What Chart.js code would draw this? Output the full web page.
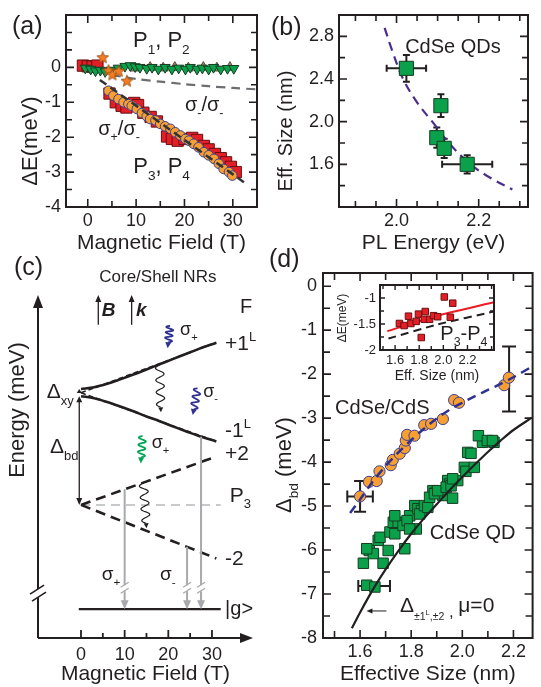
<!DOCTYPE html>
<html>
<head>
<meta charset="utf-8">
<title>Fine structure figure</title>
<script src="https://cdn.jsdelivr.net/npm/chart.js@4.4.1/dist/chart.umd.min.js"></script>
<style>
  html, body { margin:0; padding:0; background:#ffffff; }
  #fig { position:relative; width:541px; height:687px; background:#ffffff; overflow:hidden; }
  #fig canvas { position:absolute; left:0; top:0; }
</style>
</head>
<body>
<div id="fig">
  <canvas id="chartA" width="541" height="687"></canvas>
  <canvas id="chartB" width="541" height="687"></canvas>
  <canvas id="chartC" width="541" height="687"></canvas>
  <canvas id="chartD" width="541" height="687"></canvas>
  <canvas id="chartE" width="541" height="687"></canvas>
</div>
<script>
// ================= DATA =================
// ---- Panel (a): energy shift vs magnetic field ----
const a_sigPM_B = [4.3,5.3,6.35,7.4,8.4,9.1,10.15,11.2,12.2,12.9,14.0,15.0,16.0,17.1,18.1,19.15,20.2,20.9,21.9,22.9,24.0,25.0,26.1,27.1,28.1,29.2,29.9];
const a_sigPM_E = [-0.67,-0.81,-0.91,-1.00,-1.05,-1.10,-1.19,-1.31,-1.40,-1.48,-1.52,-1.62,-1.69,-1.76,-1.86,-1.95,-2.05,-2.10,-2.19,-2.29,-2.43,-2.52,-2.62,-2.76,-2.91,-3.00,-3.10];
const a_red_B = [-1.0,0.0,1.0,2.0,4.5,5.8,7.0,8.0,9.6,10.4,11.5,13.0,14.3,16.4,17.4,18.6,20.0,21.6,22.6,24.0,25.0,26.3,27.5,28.6,29.6,30.6];
const a_red_E = [0.05,0.03,0.02,0.05,-0.75,-1.00,-1.10,-1.15,-1.02,-1.08,-1.30,-1.42,-1.55,-1.98,-2.05,-2.10,-2.05,-2.02,-2.08,-2.25,-2.35,-2.48,-2.60,-2.72,-2.85,-3.00];
const a_green_B = [-0.5,0.6,1.6,2.6,3.6,4.8,6.3,7.7,8.8,9.8,10.8,12.2,13.3,14.6,16.0,17.4,18.8,20.2,21.2,22.6,23.7,25.0,26.0,27.5,28.9,30.2];
const a_green_E = [-0.02,-0.05,-0.10,-0.08,-0.12,-0.08,-0.02,0.03,0.05,0.02,0.00,-0.03,0.00,-0.05,0.00,-0.05,-0.02,-0.05,0.00,-0.05,-0.02,-0.05,0.00,-0.05,-0.03,-0.03];
const a_tan_B = [9.8,12.9,15.6,18.0,20.8,23.9,26.7,29.4];
const a_tan_E = [-0.02,0.00,-0.02,0.00,-0.02,0.00,-0.02,0.00];
const a_star_B = [3.1,4.3,5.1,6.4,8.1];
const a_star_E = [0.29,-0.08,-0.20,-0.10,-0.38];
const a_fit_B = [2.5,32.3];
const a_fit_E = [-0.36,-3.29];
const a_mm_B = [5,10,15,20,25,30,35];
const a_mm_E = [-0.22,-0.33,-0.41,-0.48,-0.54,-0.59,-0.63];
const a_xLabels = [0,10,20,30];
const a_yLabels = [0,-1,-2,-3,-4];

// ---- Panel (b): effective size vs PL energy ----
const b_energy = [2.024,2.108,2.098,2.116,2.172];
const b_size = [2.50,2.15,1.85,1.75,1.60];
const b_energyErr = [0.048,0,0,0,0.061];
const b_sizeErr = [0.125,0.107,0.095,0.09,0.085];
const b_curveE = [1.971,1.99,2.016,2.05,2.087,2.13,2.18,2.23,2.282];
const b_curveS = [2.88,2.66,2.40,2.18,2.00,1.79,1.60,1.47,1.365];
const b_xLabels = [2.0,2.2];
const b_yLabels = [1.6,2.0,2.4,2.8];

// ---- Panel (c): schematic level diagram (energy in arbitrary units 0-100) ----
const c_levelB = [0,3,6,9,12,15,18,21,24,27,31];
const c_plus1L = [72.6,73.1,74.1,75.4,76.8,78.3,79.8,81.3,82.8,84.3,86.1];
const c_minus1L = [70.5,69.9,68.8,67.5,66.1,64.6,63.2,61.7,60.3,58.9,57.3];
const c_lineB = [0,31];
const c_plus1Lbare = [71.5,86.1];
const c_minus1Lbare = [71.5,57.3];
const c_plus2 = [38.8,52.9];
const c_minus2 = [38.8,23.2];
const c_p3B = [0,32];
const c_p3E = [38.8,38.8];
const c_gB = [-0.5,32];
const c_gE = [8.4,8.4];
const c_transB = [10,24.3,27.5];
const c_transFrom = [43.4,26.6,58.7];
const c_transBreak = 14.5;
const c_axisBreak = 13.1;
const c_wavyB0 = [18.0,14.3,20.4,26.7,14.1];
const c_wavyE0 = [79.6,45.2,91.0,72.8,58.9];
const c_wavyB1 = [18.3,15.0,19.85,25.6,13.7];
const c_wavyE1 = [65.8,32.0,84.5,65.0,50.9];
const c_wavyColor = ['#231f20','#231f20','#2E3192','#2E3192','#00A651'];
const c_xLabels = [0,10,20,30];
const c_xTicks = [0,5,10,15,20,25,30];

// ---- Panel (d): Δbd vs effective size ----
const d_csX = [1.600,1.635,1.665,1.676,1.720,1.728,1.755,1.775,1.779,1.784,1.813,1.851,1.878,1.924,1.968,1.987,2.164,2.182];
const d_csY = [-4.78,-4.45,-4.43,-4.21,-4.07,-3.95,-3.81,-3.68,-3.51,-3.38,-3.40,-3.16,-3.13,-3.02,-2.59,-2.65,-2.25,-2.08];
const d_csErrPt = [1.600];
const d_csErrPtY = [-4.78];
const d_csErrX = [0.05];
const d_csErrY = [0.35];
const d_bigErrX = [2.183];
const d_bigErrY = [-2.11];
const d_bigErr = [0.74];
const d_qdX = [1.626,1.658,1.613,1.690,1.636,1.652,1.626,1.671,1.710,1.775,1.678,1.717,1.736,1.730,1.749,1.768,1.736,1.794,1.784,1.820,1.794,1.814,1.826,1.840,1.833,1.852,1.865,1.885,1.898,1.924,1.962,1.943,1.950,1.982,2.008,2.014,2.047,2.021,2.034,2.079,2.124,2.063,2.098,2.118,1.872,1.891,1.904,1.937,1.956,1.962];
const d_qdY = [-6.80,-6.84,-6.30,-6.30,-6.01,-6.08,-5.97,-5.78,-6.01,-5.97,-5.71,-5.59,-5.63,-5.37,-5.37,-5.44,-5.22,-5.22,-5.33,-5.52,-5.52,-4.99,-5.06,-5.10,-5.18,-4.99,-5.03,-4.65,-4.69,-4.76,-4.82,-4.42,-4.50,-4.42,-4.12,-4.21,-4.12,-3.78,-3.80,-3.55,-3.55,-3.40,-3.51,-3.51,-4.80,-4.72,-4.65,-4.57,-4.54,-4.38];
const d_qdErrPtX = [1.655];
const d_qdErrPtY = [-6.82];
const d_qdErrX = [0.062];
const d_csFitX = [1.561,1.60,1.65,1.70,1.75,1.80,1.85,1.90,1.95,2.00,2.05,2.10,2.15,2.20,2.272];
const d_csFitY = [-5.16,-4.85,-4.44,-4.09,-3.78,-3.50,-3.24,-3.01,-2.81,-2.65,-2.50,-2.36,-2.22,-2.07,-1.83];
const d_qdFitX = [1.568,1.60,1.65,1.70,1.75,1.80,1.85,1.90,1.95,2.00,2.05,2.10,2.15,2.20,2.272];
const d_qdFitY = [-7.78,-7.42,-6.90,-6.44,-6.02,-5.63,-5.28,-4.96,-4.64,-4.34,-4.05,-3.77,-3.51,-3.27,-2.99];
const d_xLabels = [1.6,1.8,2.0,2.2];
const d_yLabels = [0,-1,-2,-3,-4,-5,-6,-7,-8];
const d_arrowX = [1.703,1.625];
const d_arrowY = [-7.385,-7.385];

// ---- Inset of (d): P3-P4 splitting vs size ----
const in_X = [1.636,1.675,1.711,1.731,1.775,1.794,1.842,1.850,1.886,1.919,1.953,2.008,2.078,2.058,1.817];
const in_Y = [-1.49,-1.53,-1.35,-1.49,-1.45,-1.31,-1.41,-1.26,-1.41,-1.34,-1.36,-0.98,-1.10,-1.37,-1.76];
const in_redX = [1.536,1.95,2.419];
const in_redY = [-1.64,-1.34,-1.08];
const in_blkX = [1.545,1.95,2.419];
const in_blkY = [-1.78,-1.51,-1.26];
const in_xLabels = [1.6,1.8,2.0,2.2];
const in_yLabels = [-1,-1.5,-2];

// ================= HELPERS =================
const FONT = "'Liberation Sans', Arial, Helvetica, sans-serif";
const INK = '#231f20';
const W = 541, H = 687;
const pts = (xs, ys) => xs.map((x, i) => ({x: x, y: ys[i]}));
const near = (v, list) => list.some(m => Math.abs(m - v) < 1e-6);
const f0 = v => String(Math.round(v));
const f1 = v => v.toFixed(1);

function drawRich(ctx, x, y, segs, size, o) {
  o = o || {};
  const pre = (o.italic ? 'italic ' : '') + (o.bold ? 'bold ' : '');
  const items = segs.map(s => {
    if (typeof s === 'string') s = [s, ''];
    const t = s[0], k = s[1];
    let sz = size, dy = 0;
    if (k === 'sub') { sz = size * 0.62; dy = size * 0.30; }
    else if (k === 'sup') { sz = size * 0.62; dy = -size * 0.42; }
    else if (k && typeof k === 'object') { sz = size * k.s; dy = size * k.dy; }
    ctx.font = pre + sz + 'px ' + FONT;
    return {t: t, sz: sz, dy: dy, w: ctx.measureText(t).width};
  });
  const total = items.reduce((a, b) => a + b.w, 0);
  let cx = o.align === 'center' ? x - total / 2 : (o.align === 'right' ? x - total : x);
  ctx.save();
  ctx.fillStyle = o.color || INK;
  ctx.textBaseline = 'alphabetic';
  ctx.textAlign = 'left';
  if (o.rot) { ctx.translate(x, y); ctx.rotate(o.rot); ctx.translate(-x, -y); }
  items.forEach(it => { ctx.font = pre + it.sz + 'px ' + FONT; ctx.fillText(it.t, cx, y + it.dy); cx += it.w; });
  ctx.restore();
}

function arrowHead(ctx, xb, yb, xt, yt, size, half, color) {
  const dx = xt - xb, dy = yt - yb, L = Math.hypot(dx, dy) || 1, ux = dx / L, uy = dy / L;
  const bx = xt - ux * size, by = yt - uy * size;
  ctx.beginPath();
  ctx.moveTo(xt, yt);
  ctx.lineTo(bx - uy * half, by + ux * half);
  ctx.lineTo(bx + uy * half, by - ux * half);
  ctx.closePath();
  ctx.fillStyle = color;
  ctx.fill();
}

function wavy(ctx, x0, y0, x1, y1, amp, waves, color, lw, head) {
  const dx = x1 - x0, dy = y1 - y0, L = Math.hypot(dx, dy), ux = dx / L, uy = dy / L, nx = -uy, ny = ux;
  const Lw = L - head;
  ctx.save();
  ctx.strokeStyle = color; ctx.lineWidth = lw; ctx.beginPath();
  const N = 80;
  for (let i = 0; i <= N; i++) {
    const s = i / N * Lw;
    const off = amp * Math.sin(2 * Math.PI * waves * s / Lw);
    const px = x0 + ux * s + nx * off, py = y0 + uy * s + ny * off;
    if (i) ctx.lineTo(px, py); else ctx.moveTo(px, py);
  }
  ctx.stroke();
  arrowHead(ctx, x0, y0, x1, y1, head, head * 0.5, color);
  ctx.restore();
}

function axis(o) {
  return {
    type: 'linear', position: o.isX ? 'bottom' : 'left', display: o.display !== false,
    min: o.min, max: o.max, bounds: 'ticks',
    grid: {display: false, drawTicks: false},
    border: {display: false},
    ticks: {stepSize: o.step, includeBounds: false, autoSkip: false, maxRotation: 0, minRotation: 0,
      padding: o.pad, color: INK, font: {family: FONT, size: o.font},
      callback: (v) => near(v, o.labels) ? o.fmt(v) : ''},
    title: o.title ? {display: true, text: o.title, color: INK, font: {family: FONT, size: o.titleSize}, padding: {top: 0, bottom: 0}} : {display: false},
    afterFit: (s) => {
      if (o.isX) s.height = o.fixed; else s.width = o.fixed;
      s.paddingLeft = 0; s.paddingRight = 0; s.paddingTop = 0; s.paddingBottom = 0;
    }
  };
}

function framePlugin(o) {
  return {
    id: 'frame',
    beforeDatasetsDraw(chart) {
      const a = chart.chartArea, ctx = chart.ctx;
      if (o.white) { ctx.save(); ctx.fillStyle = '#ffffff'; ctx.fillRect(a.left, a.top, a.right - a.left, a.bottom - a.top); ctx.restore(); }
      const xs = chart.scales.x, ys = chart.scales.y;
      chart.data.datasets.forEach(ds => {
        if (!ds.errX && !ds.errY) return;
        ctx.save();
        ctx.strokeStyle = INK; ctx.lineWidth = ds.errWidth || 2;
        const cap = ds.errCap || 5;
        ds.data.forEach((p, i) => {
          const px = xs.getPixelForValue(p.x), py = ys.getPixelForValue(p.y);
          const ex = ds.errX ? ds.errX[i] : 0, ey = ds.errY ? ds.errY[i] : 0;
          ctx.beginPath();
          if (ex) {
            const x0 = xs.getPixelForValue(p.x - ex), x1 = xs.getPixelForValue(p.x + ex);
            ctx.moveTo(x0, py); ctx.lineTo(x1, py);
            ctx.moveTo(x0, py - cap); ctx.lineTo(x0, py + cap);
            ctx.moveTo(x1, py - cap); ctx.lineTo(x1, py + cap);
          }
          if (ey) {
            const y0 = ys.getPixelForValue(p.y - ey), y1 = ys.getPixelForValue(p.y + ey);
            ctx.moveTo(px, y0); ctx.lineTo(px, y1);
            ctx.moveTo(px - cap, y0); ctx.lineTo(px + cap, y0);
            ctx.moveTo(px - cap, y1); ctx.lineTo(px + cap, y1);
          }
          ctx.stroke();
        });
        ctx.restore();
      });
    },
    afterDatasetsDraw(chart) {
      if (o.noFrame) return;
      const ctx = chart.ctx, a = chart.chartArea, x = chart.scales.x, y = chart.scales.y;
      ctx.save();
      ctx.strokeStyle = INK;
      ctx.beginPath();
      x.ticks.forEach(t => {
        const p = x.getPixelForValue(t.value);
        if (p < a.left + 1.5 || p > a.right - 1.5) return;
        const L = near(t.value, o.xMaj) ? o.maj : o.min;
        ctx.moveTo(p, a.bottom); ctx.lineTo(p, a.bottom - L);
        ctx.moveTo(p, a.top); ctx.lineTo(p, a.top + L);
      });
      y.ticks.forEach(t => {
        const p = y.getPixelForValue(t.value);
        if (p < a.top + 1.5 || p > a.bottom - 1.5) return;
        const L = near(t.value, o.yMaj) ? o.maj : o.min;
        ctx.moveTo(a.left, p); ctx.lineTo(a.left + L, p);
        ctx.moveTo(a.right, p); ctx.lineTo(a.right - L, p);
      });
      ctx.lineWidth = o.tlw; ctx.stroke();
      ctx.lineWidth = o.lw;
      ctx.strokeRect(a.left, a.top, a.right - a.left, a.bottom - a.top);
      ctx.restore();
    }
  };
}

function notesPlugin(list, extra) {
  return {
    id: 'notes',
    afterDraw(chart) {
      const ctx = chart.ctx, x = chart.scales.x, y = chart.scales.y;
      if (extra) extra(chart);
      list.forEach(n => {
        const px = n.page ? n.x : x.getPixelForValue(n.x);
        const py = n.page ? n.y : y.getPixelForValue(n.y);
        drawRich(ctx, px, py, n.segs, n.size, n);
      });
    }
  };
}

function makeChart(id, box, fx, fy, xAxis, yAxis, datasets, plugins) {
  return new Chart(document.getElementById(id), {
    type: 'scatter',
    data: {datasets: datasets},
    options: {
      responsive: false, maintainAspectRatio: false, animation: false, devicePixelRatio: 1,
      events: [],
      layout: {padding: {left: box.l - fy, top: box.t, right: W - box.r, bottom: H - box.b - fx}},
      plugins: {legend: {display: false}, tooltip: {enabled: false}},
      scales: {x: xAxis, y: yAxis}
    },
    plugins: plugins
  });
}

function starImage(size, fill, stroke) {
  const c = document.createElement('canvas');
  c.width = size; c.height = size;
  const g = c.getContext('2d');
  const cx = size / 2, cy = size / 2 + 0.6, R = size / 2 - 0.8, r = R * 0.45;
  g.beginPath();
  for (let i = 0; i < 10; i++) {
    const ang = -Math.PI / 2 + i * Math.PI / 5, rr = i % 2 ? r : R;
    g.lineTo(cx + rr * Math.cos(ang), cy + rr * Math.sin(ang));
  }
  g.closePath(); g.fillStyle = fill; g.fill(); g.lineWidth = 0.8; g.strokeStyle = stroke; g.stroke();
  return c;
}

const ORANGE = '#F7A031', CIRC_EDGE = '#3C3F97', RED = '#E41E26', GREEN = '#0BA14B', TAN = '#A38A6A';
const TICK = 18, TITLE = 21;

// ================= PANEL (a) =================
makeChart('chartA', {l: 66, t: 15, r: 257, b: 207}, 49, 50,
  axis({isX: true, min: -4.5, max: 35, step: 5, labels: a_xLabels, fmt: f0, fixed: 49, font: TICK, pad: 3, title: 'Magnetic Field (T)', titleSize: TITLE}),
  axis({isX: false, min: -4, max: 1.5, step: 0.5, labels: a_yLabels, fmt: f0, fixed: 50, font: TICK, pad: 5}),
  [
    {label: 'σ+/σ- fit', data: pts(a_fit_B, a_fit_E), showLine: true, pointRadius: 0, borderColor: '#333333', borderWidth: 2.5, borderDash: [8, 5], order: 0},
    {label: 'P3,P4 σ+/σ-', data: pts(a_sigPM_B, a_sigPM_E), pointStyle: 'circle', pointRadius: 4.8, backgroundColor: ORANGE, borderColor: CIRC_EDGE, borderWidth: 1, order: 1},
    {label: 'σ-/σ- stars', data: pts(a_star_B, a_star_E), pointStyle: starImage(14, '#F47B20', '#8a4a10'), pointRadius: 7, order: 2},
    {label: 'P1,P2 green', data: pts(a_green_B, a_green_E), pointStyle: 'triangle', rotation: 180, pointRadius: 5.8, backgroundColor: GREEN, borderColor: '#153d22', borderWidth: 1, order: 3},
    {label: 'P1,P2 tan', data: pts(a_tan_B, a_tan_E), pointStyle: 'triangle', pointRadius: 5.8, backgroundColor: TAN, borderColor: '#5a4a3a', borderWidth: 1, order: 4},
    {label: 'P3,P4 red', data: pts(a_red_B, a_red_E), pointStyle: 'rect', pointRadius: 8, backgroundColor: RED, borderColor: '#6b0f10', borderWidth: 1, order: 5},
    {label: 'σ-/σ- fit', data: pts(a_mm_B, a_mm_E), showLine: true, pointRadius: 0, borderColor: '#6D6E71', borderWidth: 2.2, borderDash: [9, 6], tension: 0.3, order: 6}
  ],
  [framePlugin({xMaj: a_xLabels, yMaj: a_yLabels, maj: 8, min: 6, lw: 2, tlw: 1.6}),
   notesPlugin([
     {page: true, x: 12, y: 34, segs: ['(a)'], size: 25},
     {page: true, x: 37, y: 141, segs: ['ΔE(meV)'], size: 22, align: 'center', rot: -Math.PI / 2},
     {x: 9.35, y: 0.58, segs: ['P', ['1', 'sub'], ', P', ['2', 'sub']], size: 22},
     {x: 20.1, y: -1.25, segs: ['σ', ['-', 'sub'], '/σ', ['-', 'sub']], size: 20},
     {x: 2.17, y: -1.94, segs: ['σ', ['+', 'sub'], '/σ', ['-', 'sub']], size: 20},
     {x: 9.4, y: -3.03, segs: ['P', ['3', 'sub'], ', P', ['4', 'sub']], size: 22}
   ])]
);

// ================= PANEL (b) =================
makeChart('chartB', {l: 339, t: 15, r: 528, b: 207}, 49, 50,
  axis({isX: true, min: 1.86, max: 2.32, step: 0.05, labels: b_xLabels, fmt: f1, fixed: 49, font: TICK, pad: 3, title: 'PL Energy (eV)', titleSize: TITLE}),
  axis({isX: false, min: 1.2, max: 3.0, step: 0.2, labels: b_yLabels, fmt: f1, fixed: 50, font: TICK, pad: 5}),
  [
    {label: 'CdSe QDs', data: pts(b_energy, b_size), errX: b_energyErr, errY: b_sizeErr, errCap: 3.5, errWidth: 2, pointStyle: 'rect', pointRadius: 10, backgroundColor: GREEN, borderColor: '#153d22', borderWidth: 1, order: 0},
    {label: 'size curve', data: pts(b_curveE, b_curveS), showLine: true, pointRadius: 0, borderColor: '#4A2E8E', borderWidth: 2.2, borderDash: [9, 6], tension: 0.35, order: 1}
  ],
  [framePlugin({xMaj: b_xLabels, yMaj: b_yLabels, maj: 8, min: 6, lw: 2, tlw: 1.6}),
   notesPlugin([
     {page: true, x: 271, y: 35, segs: ['(b)'], size: 25},
     {page: true, x: 292, y: 131, segs: ['Eff. Size (nm)'], size: 20, align: 'center', rot: -Math.PI / 2},
     {x: 2.021, y: 2.64, segs: ['CdSe QDs'], size: 20}
   ])]
);

// ================= PANEL (c) =================
function drawC(chart) {
  const ctx = chart.ctx, a = chart.chartArea, x = chart.scales.x, y = chart.scales.y;
  const X = v => x.getPixelForValue(v), Y = v => y.getPixelForValue(v);
  ctx.save();
  ctx.strokeStyle = INK; ctx.lineWidth = 2;
  ctx.beginPath();
  ctx.moveTo(a.left, a.bottom); ctx.lineTo(a.left, a.top + 10);
  ctx.moveTo(a.left, a.bottom); ctx.lineTo(a.right - 10, a.bottom);
  ctx.stroke();
  arrowHead(ctx, a.left, a.bottom, a.left, a.top, 13, 5, INK);
  arrowHead(ctx, a.left, a.bottom, a.right, a.bottom, 13, 5, INK);
  ctx.beginPath();
  c_xTicks.forEach(t => { const p = X(t); const L = near(t, c_xLabels) ? 8 : 5; ctx.moveTo(p, a.bottom); ctx.lineTo(p, a.bottom - L); });
  ctx.lineWidth = 1.8; ctx.stroke();
  const yb = Y(c_axisBreak);
  ctx.fillStyle = '#ffffff'; ctx.fillRect(a.left - 3, yb - 4, 6, 8);
  ctx.beginPath();
  ctx.moveTo(a.left - 8, yb + 1); ctx.lineTo(a.left + 6, yb - 8);
  ctx.moveTo(a.left - 6, yb + 8); ctx.lineTo(a.left + 8, yb - 1);
  ctx.lineWidth = 1.6; ctx.stroke();
  const xd = X(-0.4);
  ctx.beginPath(); ctx.moveTo(xd, Y(c_minus1L[0]) + 5); ctx.lineTo(xd, Y(c_p3E[0]) - 6);
  ctx.lineWidth = 1.3; ctx.stroke();
  arrowHead(ctx, xd, Y(c_minus1L[0]) + 10, xd, Y(c_p3E[0]), 7, 3, INK);
  arrowHead(ctx, xd, Y(c_p3E[0]) - 10, xd, Y(c_minus1L[0]), 6, 3, INK);
  arrowHead(ctx, xd, Y(c_minus1L[0]), xd, Y(c_plus1L[0]), 4, 2.5, INK);
  const GR = '#A7A9AC';
  c_transB.forEach((b, i) => {
    const px = X(b), y0 = Y(c_transFrom[i]), y1 = Y(c_gE[0]), ybr = Y(c_transBreak);
    ctx.beginPath(); ctx.moveTo(px, y0); ctx.lineTo(px, ybr - 3); ctx.moveTo(px, ybr + 3); ctx.lineTo(px, y1 - 6);
    ctx.strokeStyle = GR; ctx.lineWidth = 2; ctx.stroke();
    ctx.beginPath();
    ctx.moveTo(px - 4, ybr - 1); ctx.lineTo(px + 4, ybr - 6);
    ctx.moveTo(px - 4, ybr + 5); ctx.lineTo(px + 4, ybr);
    ctx.lineWidth = 1.3; ctx.stroke();
    arrowHead(ctx, px, y0, px, y1, 9, 4, GR);
  });
  c_wavyB0.forEach((b, i) => {
    const colored = i >= 2;
    wavy(ctx, X(b), Y(c_wavyE0[i]), X(c_wavyB1[i]), Y(c_wavyE1[i]), colored ? 3.6 : 4.2, colored ? 3 : 3.5, c_wavyColor[i], colored ? 1.8 : 1.2, colored ? 6 : 5);
  });
  [3.96, 11.6].forEach(b => {
    ctx.beginPath(); ctx.moveTo(X(b), Y(91.3)); ctx.lineTo(X(b), Y(100) + 5);
    ctx.strokeStyle = INK; ctx.lineWidth = 1.3; ctx.stroke();
    arrowHead(ctx, X(b), Y(91.3), X(b), Y(100), 7, 3, INK);
  });
  ctx.restore();
}

makeChart('chartC', {l: 38, t: 295, r: 253, b: 638}, 49, 0,
  axis({isX: true, min: -9.85, max: 39.4, step: 5, labels: c_xLabels, fmt: f0, fixed: 49, font: TICK, pad: 6, title: 'Magnetic Field (T)', titleSize: TITLE}),
  axis({isX: false, display: false, min: 0, max: 100, step: 10, labels: [], fmt: f0, fixed: 0, font: TICK, pad: 0}),
  [
    {label: '+1L', data: pts(c_levelB, c_plus1L), showLine: true, pointRadius: 0, borderColor: INK, borderWidth: 2.6, tension: 0.35, order: 0},
    {label: '-1L', data: pts(c_levelB, c_minus1L), showLine: true, pointRadius: 0, borderColor: INK, borderWidth: 2.6, tension: 0.35, order: 0},
    {label: '+1L bare', data: pts(c_lineB, c_plus1Lbare), showLine: true, pointRadius: 0, borderColor: INK, borderWidth: 1.6, borderDash: [5, 3], order: 1},
    {label: '-1L bare', data: pts(c_lineB, c_minus1Lbare), showLine: true, pointRadius: 0, borderColor: INK, borderWidth: 1.6, borderDash: [5, 3], order: 1},
    {label: '+2', data: pts(c_lineB, c_plus2), showLine: true, pointRadius: 0, borderColor: INK, borderWidth: 2.6, borderDash: [10, 6], order: 1},
    {label: '-2', data: pts(c_lineB, c_minus2), showLine: true, pointRadius: 0, borderColor: INK, borderWidth: 2.6, borderDash: [10, 6], order: 1},
    {label: 'P3', data: pts(c_p3B, c_p3E), showLine: true, pointRadius: 0, borderColor: '#C8C9CA', borderWidth: 2, borderDash: [9, 6], order: 2},
    {label: '|g>', data: pts(c_gB, c_gE), showLine: true, pointRadius: 0, borderColor: INK, borderWidth: 2.2, order: 0}
  ],
  [framePlugin({noFrame: true}),
   notesPlugin([
     {page: true, x: 14, y: 275, segs: ['(c)'], size: 25},
     {page: true, x: 24, y: 410, segs: ['Energy (meV)'], size: 22, align: 'center', rot: -Math.PI / 2},
     {x: 17.6, y: 103.9, segs: ['Core/Shell NRs'], size: 17, align: 'center'},
     {x: 4.74, y: 93.9, segs: ['B'], size: 19, bold: true, italic: true},
     {x: 12.6, y: 93.9, segs: ['k'], size: 19, bold: true, italic: true},
     {x: 36.4, y: 94.7, segs: ['F'], size: 20},
     {x: 33.0, y: 84.0, segs: ['+1', ['L', 'sup']], size: 21},
     {x: 33.0, y: 58.7, segs: ['-1', ['L', 'sup']], size: 21},
     {x: 33.0, y: 51.9, segs: ['+2'], size: 21},
     {x: 34.1, y: 39.7, segs: ['P', ['3', 'sub']], size: 21},
     {x: 33.0, y: 21.3, segs: ['-2'], size: 21},
     {x: 33.0, y: 6.7, segs: ['|g>'], size: 20},
     {x: -7.85, y: 69.9, segs: ['Δ', ['xy', 'sub']], size: 21},
     {x: -7.1, y: 53.8, segs: ['Δ', ['bd', 'sub']], size: 21},
     {x: 4.74, y: 16.9, segs: ['σ', ['+', 'sub']], size: 19},
     {x: 18.1, y: 16.9, segs: ['σ', ['-', 'sub']], size: 19},
     {x: 22.7, y: 88.3, segs: ['σ', ['+', 'sub']], size: 18},
     {x: 28.0, y: 70.4, segs: ['σ', ['-', 'sub']], size: 18},
     {x: 16.2, y: 55.3, segs: ['σ', ['+', 'sub']], size: 18}
   ], drawC)]
);

// ================= PANEL (d) =================
function drawD(chart) {
  const ctx = chart.ctx, x = chart.scales.x, y = chart.scales.y;
  const x0 = x.getPixelForValue(d_arrowX[0]), x1 = x.getPixelForValue(d_arrowX[1]);
  const y0 = y.getPixelForValue(d_arrowY[0]), y1 = y.getPixelForValue(d_arrowY[1]);
  ctx.save();
  ctx.beginPath(); ctx.moveTo(x0, y0); ctx.lineTo(x1 + 4, y1);
  ctx.strokeStyle = INK; ctx.lineWidth = 1; ctx.stroke();
  arrowHead(ctx, x0, y0, x1, y1, 6, 2.5, INK);
  ctx.restore();
}

makeChart('chartD', {l: 323, t: 273, r: 533, b: 638}, 49, 50,
  axis({isX: true, min: 1.455, max: 2.275, step: 0.1, labels: d_xLabels, fmt: f1, fixed: 49, font: TICK, pad: 3, title: 'Effective Size (nm)', titleSize: TITLE}),
  axis({isX: false, min: -8, max: 0.3, step: 0.5, labels: d_yLabels, fmt: f0, fixed: 50, font: TICK, pad: 6}),
  [
    {label: 'QD fit', data: pts(d_qdFitX, d_qdFitY), showLine: true, pointRadius: 0, borderColor: INK, borderWidth: 2.2, tension: 0.3, order: 0},
    {label: 'CdSe/CdS fit', data: pts(d_csFitX, d_csFitY), showLine: true, pointRadius: 0, borderColor: '#2E3192', borderWidth: 2.5, borderDash: [9, 6], tension: 0.3, order: 1},
    {label: 'CdSe/CdS', data: pts(d_csX, d_csY), pointStyle: 'circle', pointRadius: 5.6, backgroundColor: ORANGE, borderColor: CIRC_EDGE, borderWidth: 1, order: 2},
    {label: 'CdSe/CdS err', data: pts(d_csErrPt, d_csErrPtY), errX: d_csErrX, errY: d_csErrY, errCap: 6, pointRadius: 0, order: 5},
    {label: 'CdSe/CdS big err', data: pts(d_bigErrX, d_bigErrY), errY: d_bigErr, errCap: 7, pointRadius: 0, order: 5},
    {label: 'CdSe QD', data: pts(d_qdX, d_qdY), pointStyle: 'rect', pointRadius: 7.4, backgroundColor: GREEN, borderColor: '#153d22', borderWidth: 1, order: 3},
    {label: 'CdSe QD err', data: pts(d_qdErrPtX, d_qdErrPtY), errX: d_qdErrX, errCap: 6, pointRadius: 0, order: 5}
  ],
  [framePlugin({xMaj: d_xLabels, yMaj: d_yLabels, maj: 8, min: 7, lw: 2, tlw: 1.6}),
   notesPlugin([
     {page: true, x: 269, y: 267, segs: ['(d)'], size: 25},
     {page: true, x: 291, y: 465, segs: ['Δ', ['bd', 'sub'], ' (meV)'], size: 22, align: 'center', rot: -Math.PI / 2},
     {x: 1.502, y: -2.9, segs: ['CdSe/CdS'], size: 20},
     {x: 1.873, y: -5.75, segs: ['CdSe QD'], size: 20},
     {x: 1.756, y: -7.40, segs: ['Δ', ['±1', {s: 0.5, dy: 0.38}], ['L', {s: 0.36, dy: 0.16}], [',±2', {s: 0.5, dy: 0.38}], [' , ', {s: 0.8, dy: 0.25}], 'μ=0'], size: 21}
   ], drawD)]
);

// ================= INSET of (d) =================
makeChart('chartE', {l: 380, t: 285, r: 494, b: 350}, 35, 40,
  axis({isX: true, min: 1.475, max: 2.42, step: 0.1, labels: in_xLabels, fmt: f1, fixed: 35, font: 13, pad: 3, title: 'Eff. Size (nm)', titleSize: 14}),
  axis({isX: false, min: -2, max: -0.75, step: 0.25, labels: in_yLabels, fmt: v => (Math.abs(v - Math.round(v)) < 1e-6 ? f0(v) : v.toFixed(1)), fixed: 40, font: 13, pad: 4}),
  [
    {label: 'red fit', data: pts(in_redX, in_redY), showLine: true, pointRadius: 0, borderColor: '#ED1C24', borderWidth: 2, tension: 0.2, order: 1},
    {label: 'black fit', data: pts(in_blkX, in_blkY), showLine: true, pointRadius: 0, borderColor: INK, borderWidth: 2, borderDash: [8, 5], tension: 0.2, order: 1},
    {label: 'P3-P4', data: pts(in_X, in_Y), pointStyle: 'rect', pointRadius: 4.6, backgroundColor: RED, borderColor: '#6b0f10', borderWidth: 1, order: 0}
  ],
  [framePlugin({xMaj: in_xLabels, yMaj: in_yLabels, maj: 5, min: 4, lw: 2, tlw: 1.4, white: true}),
   notesPlugin([
     {page: true, x: 346, y: 318, segs: ['ΔE(meV)'], size: 12, align: 'center', rot: -Math.PI / 2},
     {x: 1.975, y: -1.81, segs: ['P', ['3', 'sub'], '-P', ['4', 'sub']], size: 20}
   ])]
);
</script>
</body>
</html>
